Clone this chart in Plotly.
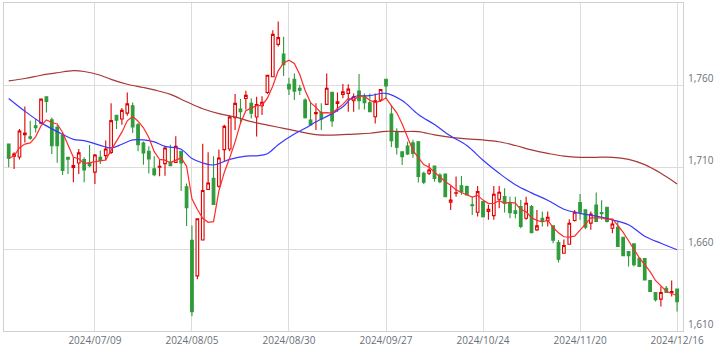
import pandas as pd
import plotly.graph_objects as go

# trading calendar (TSE), 2024-06-17 .. 2024-12-16
holidays = ["2024-07-15", "2024-08-12", "2024-09-16", "2024-09-23", "2024-10-14", "2024-11-04"]
dates = [d.strftime("%Y/%m/%d") for d in pd.bdate_range("2024-06-17", "2024-12-16")
         if d.strftime("%Y-%m-%d") not in holidays]

opens = [1724.4, 1716.9, 1716.5, 1730.1, 1728.9, 1735.6, 1737.2, 1753.3, 1739.3, 1734.6,
         1729.9, 1716.3, 1710.0, 1712.8, 1714.9, 1712.8, 1707.2, 1716.3, 1717.3, 1719.3,
         1742.0, 1739.7, 1743.3, 1747.8, 1736.2, 1725.0, 1720.0, 1709.2, 1710.2, 1712.4,
         1713.2, 1713.2, 1720.0, 1698.2, 1665.5, 1643.7, 1665.7, 1696.6, 1703.5, 1698.6,
         1721.0, 1721.4, 1740.5, 1745.8, 1752.3, 1749.3, 1740.9, 1747.8, 1755.9, 1765.6,
         1785.4, 1779.4, 1761.0, 1764.0, 1758.5, 1751.3, 1739.1, 1743.0, 1743.8, 1748.7,
         1756.0, 1749.3, 1754.8, 1755.4, 1750.9, 1756.8, 1753.7, 1749.7, 1741.1, 1751.3,
         1764.0, 1742.8, 1732.0, 1719.7, 1723.2, 1725.2, 1725.8, 1706.5, 1706.5, 1711.0,
         1705.5, 1706.1, 1688.8, 1694.3, 1698.8, 1698.4, 1687.2, 1682.7, 1689.2, 1683.1,
         1680.6, 1690.6, 1692.2, 1688.6, 1683.5, 1686.1, 1679.0, 1686.1, 1671.9, 1679.0,
         1677.5, 1674.3, 1664.1, 1657.6, 1663.1, 1677.6, 1688.6, 1684.1, 1676.0, 1687.1,
         1682.5, 1685.7, 1672.9, 1673.5, 1667.4, 1658.6, 1663.3, 1654.5, 1654.3, 1640.9,
         1633.6, 1629.5, 1636.2, 1633.6, 1635.6]
highs = [1724.6, 1719.3, 1733.6, 1747.4, 1738.7, 1739.7, 1752.3, 1753.5, 1740.7, 1736.0,
         1731.5, 1716.3, 1716.3, 1721.4, 1716.3, 1723.8, 1718.3, 1720.4, 1726.5, 1749.4,
         1742.0, 1746.4, 1755.9, 1749.8, 1737.2, 1726.0, 1723.0, 1716.9, 1714.9, 1723.0,
         1724.0, 1729.1, 1720.0, 1700.2, 1674.6, 1678.7, 1724.6, 1719.3, 1716.9, 1721.0,
         1736.2, 1742.0, 1755.0, 1752.0, 1757.0, 1752.4, 1753.4, 1753.6, 1766.6, 1794.0,
         1799.4, 1790.0, 1765.0, 1767.6, 1760.5, 1752.4, 1750.3, 1749.3, 1749.3, 1767.6,
         1756.0, 1756.0, 1761.2, 1761.0, 1755.4, 1767.2, 1755.4, 1755.4, 1755.4, 1757.8,
         1764.0, 1748.3, 1734.0, 1719.7, 1725.8, 1727.0, 1726.3, 1707.5, 1712.6, 1711.0,
         1706.5, 1706.1, 1698.7, 1704.5, 1704.9, 1699.0, 1692.2, 1698.8, 1689.2, 1687.2,
         1698.8, 1698.8, 1697.3, 1692.2, 1692.2, 1690.2, 1692.2, 1687.1, 1684.1, 1683.1,
         1683.1, 1674.3, 1665.7, 1666.0, 1678.4, 1684.1, 1693.9, 1684.1, 1683.1, 1694.7,
         1690.0, 1685.7, 1678.0, 1677.0, 1667.4, 1658.6, 1663.3, 1654.5, 1654.3, 1640.9,
         1633.6, 1637.2, 1637.6, 1640.9, 1635.6]
lows = [1710.2, 1709.2, 1714.9, 1725.4, 1727.1, 1731.5, 1736.6, 1743.7, 1718.3, 1713.0,
        1705.5, 1706.0, 1701.0, 1706.1, 1701.0, 1710.2, 1700.0, 1712.2, 1714.3, 1718.3,
        1733.6, 1736.2, 1741.7, 1731.1, 1720.0, 1711.8, 1706.3, 1704.7, 1704.7, 1705.0,
        1711.2, 1712.8, 1695.6, 1674.2, 1619.0, 1641.7, 1665.7, 1696.6, 1687.4, 1697.6,
        1713.9, 1720.0, 1733.0, 1737.0, 1745.5, 1740.1, 1729.0, 1742.1, 1755.0, 1765.6,
        1784.1, 1766.0, 1754.4, 1751.3, 1754.4, 1740.1, 1736.1, 1733.0, 1733.0, 1748.7,
        1735.0, 1744.2, 1752.4, 1744.2, 1744.2, 1745.6, 1745.6, 1744.2, 1737.0, 1750.3,
        1752.3, 1722.6, 1718.0, 1711.6, 1717.7, 1716.0, 1700.8, 1700.0, 1705.5, 1701.4,
        1700.4, 1691.8, 1684.1, 1692.2, 1693.3, 1693.0, 1681.0, 1680.0, 1679.5, 1678.0,
        1678.0, 1685.1, 1682.5, 1679.0, 1679.0, 1672.9, 1678.0, 1670.2, 1671.4, 1673.9,
        1673.9, 1663.7, 1651.9, 1657.6, 1662.7, 1677.0, 1678.0, 1672.3, 1671.9, 1677.0,
        1678.0, 1676.4, 1669.8, 1661.7, 1656.0, 1649.5, 1649.5, 1649.5, 1641.3, 1634.2,
        1628.0, 1625.0, 1633.6, 1631.1, 1621.9]
closes = [1715.7, 1718.3, 1732.4, 1731.1, 1727.9, 1734.4, 1751.9, 1750.4, 1723.4, 1723.4,
          1708.2, 1715.1, 1711.2, 1719.0, 1708.6, 1711.2, 1717.7, 1714.3, 1721.4, 1738.7,
          1739.0, 1745.0, 1749.0, 1734.8, 1724.0, 1719.0, 1715.3, 1705.7, 1710.8, 1722.0,
          1711.2, 1723.0, 1712.8, 1685.4, 1621.8, 1678.7, 1696.0, 1700.6, 1687.4, 1715.9,
          1735.2, 1740.9, 1749.3, 1744.2, 1754.2, 1743.2, 1748.6, 1750.0, 1766.5, 1791.5,
          1789.5, 1772.9, 1758.1, 1756.8, 1757.3, 1740.5, 1736.1, 1743.6, 1739.7, 1758.5,
          1738.5, 1750.3, 1756.4, 1758.0, 1753.3, 1750.9, 1749.7, 1744.2, 1750.9, 1757.8,
          1760.0, 1726.5, 1722.4, 1716.7, 1718.3, 1718.7, 1704.5, 1701.0, 1708.5, 1703.4,
          1701.4, 1692.2, 1690.2, 1694.5, 1695.3, 1693.3, 1686.6, 1695.3, 1680.0, 1684.5,
          1693.7, 1694.9, 1688.2, 1682.4, 1682.0, 1673.9, 1688.2, 1670.2, 1674.3, 1677.0,
          1679.6, 1665.5, 1653.9, 1662.3, 1675.9, 1682.7, 1682.7, 1673.5, 1681.6, 1677.0,
          1681.7, 1677.0, 1675.5, 1661.7, 1656.0, 1656.0, 1650.5, 1649.5, 1641.3, 1634.2,
          1629.1, 1633.6, 1633.6, 1634.2, 1628.0]

# 5-day moving average of the closes
ma5 = pd.Series(closes).rolling(5, min_periods=1).mean().tolist()

# 25-day moving average, read at selected bars
ma25_idx = [0, 3, 6, 9, 12, 14, 17, 19, 21, 23, 25, 27, 29, 32, 34, 36, 38, 41, 44, 46, 48,
            50, 53, 55, 57, 60, 62, 64, 67, 70, 73, 76, 79, 82, 85, 88, 91, 94, 97, 100,
            103, 106, 109, 112, 115, 118, 121, 124]
ma25_val = [1752.3, 1744.5, 1737.5, 1732.0, 1727.3, 1726.5, 1723.6, 1722.0, 1724.3, 1726.9,
            1726.9, 1725.7, 1723.0, 1721.2, 1715.5, 1712.8, 1711.6, 1715.0, 1717.0, 1717.2,
            1718.5, 1724.0, 1730.5, 1734.0, 1738.0, 1743.0, 1747.2, 1753.3, 1754.0, 1755.4,
            1751.0, 1742.5, 1736.3, 1729.3, 1723.5, 1714.5, 1706.5, 1699.5, 1694.5, 1690.0,
            1684.5, 1682.0, 1680.3, 1678.0, 1675.0, 1668.0, 1663.7, 1659.7]

# 75-day moving average, read at selected bars
ma75_idx = [0, 3, 6, 9, 12, 14, 17, 19, 22, 25, 27, 30, 33, 36, 39, 42, 45, 48, 51, 54, 57,
            60, 64, 67, 70, 73, 76, 79, 82, 85, 88, 91, 94, 97, 100, 103, 106, 109, 112,
            115, 118, 121, 124]
ma75_val = [1763.1, 1764.5, 1766.5, 1768.0, 1769.3, 1768.8, 1766.5, 1764.0, 1761.0, 1759.0,
            1757.5, 1754.8, 1750.3, 1746.0, 1743.0, 1741.0, 1738.1, 1736.0, 1734.0, 1732.0,
            1730.2, 1729.9, 1730.5, 1731.0, 1732.2, 1732.0, 1732.0, 1730.0, 1728.5, 1727.5,
            1726.9, 1725.8, 1723.5, 1720.8, 1718.7, 1717.0, 1716.3, 1716.3, 1716.3, 1715.0,
            1711.8, 1706.5, 1700.0]

x_ticks = ["2024/07/09", "2024/08/05", "2024/08/30", "2024/09/27", "2024/10/24",
           "2024/11/20", "2024/12/16"]
y_ticks = [1610, 1660, 1710, 1760]
y_ticktext = ["1,610", "1,660", "1,710", "1,760"]

RED = "#e00000"
GREEN = "#2f9b3a"

fig = go.Figure()
fig.add_trace(go.Candlestick(
    x=dates, open=opens, high=highs, low=lows, close=closes,
    increasing=dict(line=dict(color=RED, width=1.1), fillcolor="rgba(255,255,255,1)"),
    decreasing=dict(line=dict(color=GREEN, width=1.1), fillcolor=GREEN),
    whiskerwidth=0, showlegend=False, hoverinfo="skip",
))
fig.add_trace(go.Scatter(x=[dates[i] for i in ma75_idx], y=ma75_val, mode="lines",
                         line=dict(color="#a83838", width=1.2, shape="spline"),
                         showlegend=False, hoverinfo="skip"))
fig.add_trace(go.Scatter(x=[dates[i] for i in ma25_idx], y=ma25_val, mode="lines",
                         line=dict(color="#3838ff", width=1.2, shape="spline"),
                         showlegend=False, hoverinfo="skip"))
fig.add_trace(go.Scatter(x=dates, y=ma5, mode="lines",
                         line=dict(color="#ff2a2a", width=1.2),
                         showlegend=False, hoverinfo="skip"))

font = dict(family="Open Sans", size=10, color="#6a6f78")
fig.update_layout(
    width=727, height=358,
    margin=dict(l=4, r=44, t=3, b=27),
    paper_bgcolor="white", plot_bgcolor="white",
    showlegend=False,
    font=font,
    xaxis=dict(type="category", categoryorder="array", categoryarray=dates,
               range=[-0.87, 125.1], rangeslider=dict(visible=False),
               tickmode="array", tickvals=x_ticks, ticktext=x_ticks,
               showgrid=True, gridcolor="#dcdcdc", gridwidth=1,
               showline=True, linecolor="#d0d0d0", linewidth=1, mirror=True,
               ticks="", tickfont=font, zeroline=False),
    yaxis=dict(side="right", range=[1610, 1810.7],
               tickmode="array", tickvals=y_ticks, ticktext=y_ticktext,
               showgrid=True, gridcolor="#dcdcdc", gridwidth=1,
               showline=True, linecolor="#d0d0d0", linewidth=1, mirror=True,
               ticks="", ticklen=0, tickfont=font, zeroline=False,
               ticklabelshift=-7, ticklabelstandoff=2),
)

fig.write_html("out.html", config={"displayModeBar": False},
               post_script="document.body.style.margin='0px';")
